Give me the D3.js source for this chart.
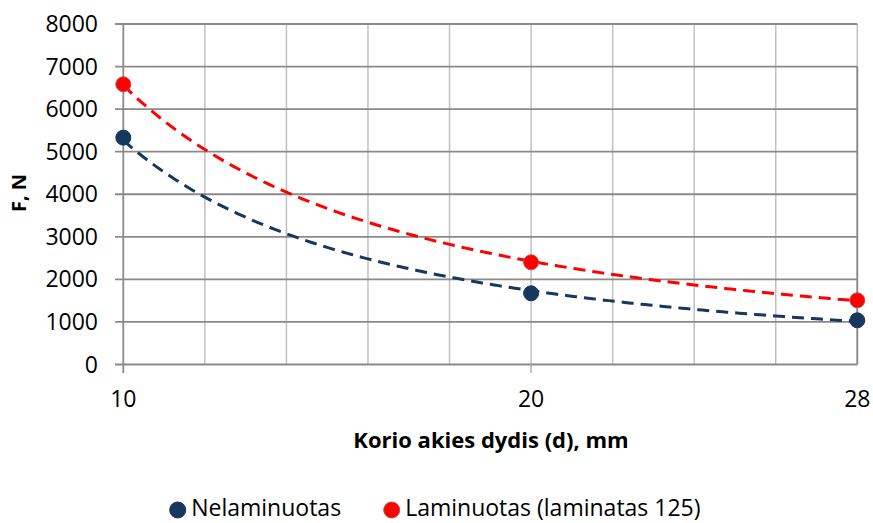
<!DOCTYPE html>
<html>
<head>
<meta charset="utf-8">
<script src="https://cdn.jsdelivr.net/npm/d3@7/dist/d3.min.js"></script>
<style>
  html, body { margin: 0; padding: 0; background: #fff; }
  svg { display: block; font-family: "Open Sans", "Noto Sans", sans-serif; }
</style>
</head>
<body>
<svg id="chart" width="873" height="523"></svg>
<script>
// ---- data ----
const xValues = [10, 20, 28];
const nelaminuotas = [5330, 1673, 1038];
const laminuotas = [6584, 2401, 1508];
const seriesNames = ["Nelaminuotas", "Laminuotas (laminatas 125)"];
const yTicks = [0, 1000, 2000, 3000, 4000, 5000, 6000, 7000, 8000];
const xGridTicks = [10, 12, 14, 16, 18, 20, 22, 24, 26, 28];
const xLabelTicks = [10, 20, 28];
const xMarkTicks = [10, 20];
const xTitle = "Korio akies dydis (d), mm";
const yTitle = "F, N";

const colors = ["#17375e", "#ff0000"];
const strokes = ["#17375e", "#c0504d"];

const svg = d3.select("#chart");
const x = d3.scaleLinear().domain([10, 28]).range([123.3, 857.3]);
const y = d3.scaleLinear().domain([0, 8000]).range([364.5, 24]);

// gridlines vertical (light)
svg.append("g").selectAll("line").data(xGridTicks.filter(d => d !== 10)).join("line")
  .attr("x1", d => x(d)).attr("x2", d => x(d))
  .attr("y1", y(8000)).attr("y2", y(0))
  .attr("stroke", "#c0c0c0").attr("stroke-width", 1.5);

// right border darker segment
svg.append("line")
  .attr("x1", x(28)).attr("x2", x(28)).attr("y1", y(7000)).attr("y2", y(0))
  .attr("stroke", "#8a8a8a").attr("stroke-width", 1.8);

// horizontal gridlines (darker), extending left as ticks
svg.append("g").selectAll("line").data(yTicks).join("line")
  .attr("x1", 115).attr("x2", x(28))
  .attr("y1", d => y(d)).attr("y2", d => y(d))
  .attr("stroke", "#8a8a8a").attr("stroke-width", 1.8);

// y axis line
svg.append("line")
  .attr("x1", x(10)).attr("x2", x(10)).attr("y1", y(8000)).attr("y2", 373)
  .attr("stroke", "#8a8a8a").attr("stroke-width", 1.8);

// x ticks
svg.append("g").selectAll("line").data(xMarkTicks.filter(d => d !== 10)).join("line")
  .attr("x1", d => x(d)).attr("x2", d => x(d))
  .attr("y1", y(0)).attr("y2", 373)
  .attr("stroke", "#b0b0b0").attr("stroke-width", 1.5);

// y tick labels
svg.append("g").selectAll("text").data(yTicks).join("text")
  .attr("x", 98).attr("y", d => y(d) + 8)
  .attr("text-anchor", "end")
  .attr("font-size", 23).attr("fill", "#000")
  .text(d => d);

// x tick labels
svg.append("g").selectAll("text").data(xLabelTicks).join("text")
  .attr("x", d => x(d)).attr("y", 407)
  .attr("text-anchor", "middle")
  .attr("font-size", 23).attr("fill", "#000")
  .text(d => d);

// axis titles
svg.append("text")
  .attr("x", 491).attr("y", 448)
  .attr("text-anchor", "middle")
  .attr("font-size", 22).attr("font-weight", "bold")
  .text(xTitle);
svg.append("text")
  .attr("transform", "translate(26,193) rotate(-90)")
  .attr("text-anchor", "middle")
  .attr("font-size", 20).attr("font-weight", "bold")
  .text(yTitle);

// power trendline fit (least squares in log-log space)
function powerFit(xs, ys) {
  const lx = xs.map(Math.log), ly = ys.map(Math.log);
  const mx = d3.mean(lx), my = d3.mean(ly);
  const b = d3.sum(lx.map((v, i) => (v - mx) * (ly[i] - my))) / d3.sum(lx.map(v => (v - mx) ** 2));
  const a = Math.exp(my - b * mx);
  return t => a * Math.pow(t, b);
}

const allSeries = [nelaminuotas, laminuotas];
const line = d3.line().x(d => x(d[0])).y(d => y(d[1])).curve(d3.curveLinear);
allSeries.forEach((vals, i) => {
  const f = powerFit(xValues, vals);
  const pts = d3.range(10, 28.001, 0.1).map(t => [t, f(t)]);
  svg.append("path").datum(pts)
    .attr("d", line)
    .attr("fill", "none")
    .attr("stroke", colors[i]).attr("stroke-width", 3)
    .attr("stroke-dasharray", "12,7");
});

allSeries.forEach((vals, i) => {
  svg.append("g").selectAll("circle").data(vals).join("circle")
    .attr("cx", (d, j) => x(xValues[j])).attr("cy", d => y(d))
    .attr("r", 7.5)
    .attr("fill", colors[i])
    .attr("stroke", strokes[i]).attr("stroke-width", 1);
});

// legend
const legendX = [177.7, 391.7];
seriesNames.forEach((name, i) => {
  svg.append("circle").attr("cx", legendX[i]).attr("cy", 510).attr("r", 8)
    .attr("fill", colors[i]).attr("stroke", strokes[i]).attr("stroke-width", 1);
  svg.append("text").attr("x", legendX[i] + 13.5).attr("y", 516)
    .attr("font-size", 23).attr("fill", "#000").text(name);
});
</script>
</body>
</html>
